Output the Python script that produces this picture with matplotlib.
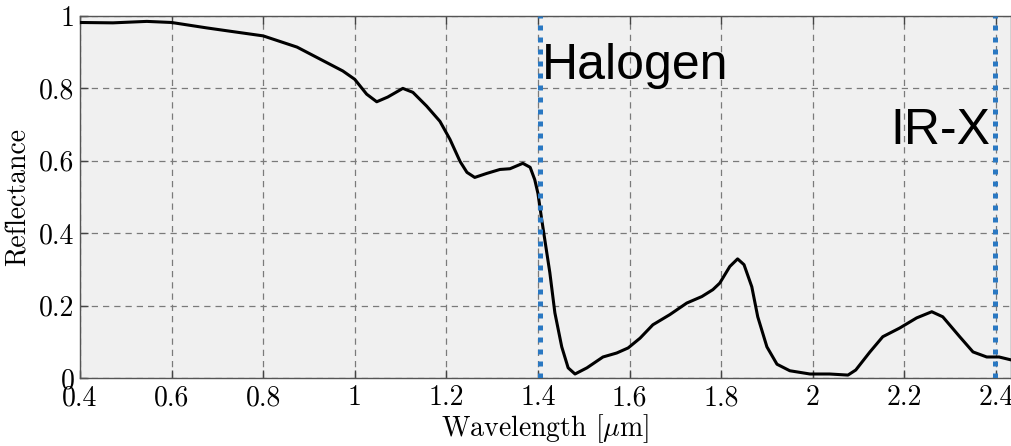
import matplotlib
matplotlib.use("Agg")
import matplotlib.pyplot as plt

# reflectance spectrum
wavelength = [0.400, 0.472, 0.546, 0.600, 0.677, 0.727, 0.800, 0.874, 0.924, 0.974,
              1.000, 1.026, 1.048, 1.072, 1.105, 1.127, 1.157, 1.186, 1.208, 1.230,
              1.245, 1.262, 1.288, 1.317, 1.339, 1.367, 1.383, 1.393, 1.400, 1.408,
              1.415, 1.426, 1.437, 1.452, 1.466, 1.481, 1.507, 1.542, 1.572, 1.597,
              1.623, 1.651, 1.688, 1.725, 1.758, 1.782, 1.797, 1.819, 1.836, 1.850,
              1.867, 1.880, 1.900, 1.922, 1.950, 1.994, 2.037, 2.077, 2.094, 2.125,
              2.153, 2.190, 2.227, 2.260, 2.284, 2.321, 2.350, 2.380, 2.407, 2.433]
reflectance = [0.982, 0.981, 0.985, 0.982, 0.967, 0.958, 0.945, 0.914, 0.881, 0.848,
               0.825, 0.784, 0.763, 0.776, 0.800, 0.789, 0.751, 0.709, 0.659, 0.598,
               0.568, 0.554, 0.565, 0.576, 0.578, 0.593, 0.582, 0.548, 0.510, 0.440,
               0.382, 0.291, 0.180, 0.086, 0.028, 0.011, 0.028, 0.058, 0.069, 0.083,
               0.110, 0.147, 0.175, 0.207, 0.225, 0.244, 0.262, 0.308, 0.329, 0.313,
               0.252, 0.169, 0.086, 0.038, 0.020, 0.011, 0.011, 0.008, 0.022, 0.072,
               0.114, 0.138, 0.166, 0.183, 0.169, 0.114, 0.072, 0.058, 0.058, 0.050]

lamp_x = [1.404, 2.397]
lamp_names = ["Halogen", "IR-X"]
lamp_label_pos = [(1.408, 0.825), (2.170, 0.645)]

xticks = [0.4, 0.6, 0.8, 1.0, 1.2, 1.4, 1.6, 1.8, 2.0, 2.2, 2.4]
xtick_labels = ["0.4", "0.6", "0.8", "1", "1.2", "1.4", "1.6", "1.8", "2", "2.2", "2.4"]
yticks = [0, 0.2, 0.4, 0.6, 0.8, 1.0]
ytick_labels = ["0", "0.2", "0.4", "0.6", "0.8", "1"]

plt.rcParams["font.family"] = "serif"
plt.rcParams["font.serif"] = ["cmr10", "DejaVu Serif"]
plt.rcParams["mathtext.fontset"] = "cm"

fig = plt.figure(figsize=(10.11, 4.46), dpi=100)
ax = fig.add_axes([0.0791, 0.1525, 0.9209, 0.8117])
ax.set_facecolor("#f0f0f0")

ax.plot(wavelength, reflectance, color="black", lw=2.2, zorder=3,
        solid_joinstyle="round")

for x in lamp_x:
    ax.axvline(x, color="#2a78c2", lw=3.6, ls=(0, (1, 1.4)), zorder=4)

for name, (tx, ty) in zip(lamp_names, lamp_label_pos):
    ax.text(tx, ty, name, fontsize=36, family="Liberation Sans", color="black", zorder=5)

ax.set_xlim(0.4, 2.433)
ax.set_ylim(0, 1)
ax.set_xticks(xticks)
ax.set_xticklabels(xtick_labels)
ax.set_yticks(yticks)
ax.set_yticklabels(ytick_labels)
ax.tick_params(direction="in", length=6, width=1, top=True, labelsize=20,
               color="#444444")
ax.tick_params(axis="x", pad=5)
ax.tick_params(axis="y", pad=4)
ax.grid(True, ls=(0, (5, 4)), color="#7a7a7a", lw=0.9)
ax.set_axisbelow(True)

for s in ax.spines.values():
    s.set_color("#555555")
    s.set_linewidth(1.0)

ax.set_xlabel(r"Wavelength [$\mu$m]", fontsize=20, labelpad=1)
ax.set_ylabel("Reflectance", fontsize=20, labelpad=5)

fig.savefig("out.png", dpi=100)
